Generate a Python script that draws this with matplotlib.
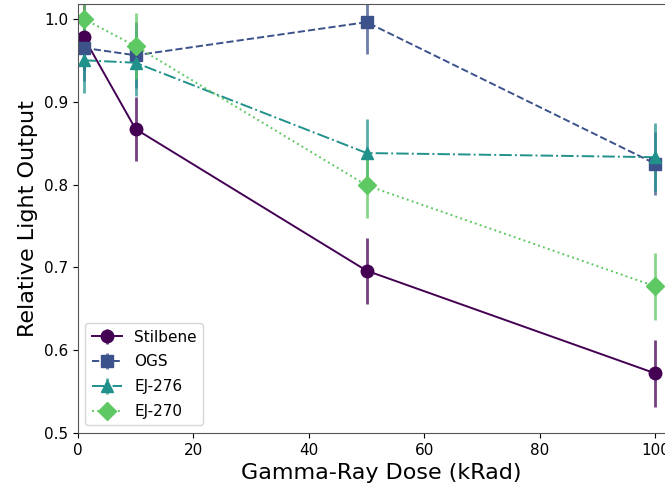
import matplotlib
matplotlib.use("Agg")
import matplotlib.pyplot as plt
from matplotlib.colors import to_rgba

# Gamma-ray dose (kRad) and relative light output per scintillator
dose = [1, 10, 50, 100]

stilbene = [0.978, 0.867, 0.696, 0.572]
stilbene_err = [0.04, 0.039, 0.04, 0.04]

ogs = [0.965, 0.956, 0.996, 0.825]
ogs_err = [0.04, 0.04, 0.039, 0.038]

ej276 = [0.950, 0.947, 0.838, 0.833]
ej276_err = [0.04, 0.04, 0.041, 0.041]

ej270 = [1.000, 0.967, 0.799, 0.677]
ej270_err = [0.04, 0.04, 0.04, 0.04]

series = [
    ("Stilbene", stilbene, stilbene_err, "#440154", "-", "o"),
    ("OGS", ogs, ogs_err, "#3b528b", "--", "s"),
    ("EJ-276", ej276, ej276_err, "#21918c", "-.", "^"),
    ("EJ-270", ej270, ej270_err, "#5ec962", ":", "D"),
]

fig = plt.figure(figsize=(6.65, 4.91), dpi=100)
ax = fig.add_axes([0.117, 0.118, 0.912, 0.874])

for label, values, errors, color, style, marker in series:
    ax.errorbar(
        dose, values, yerr=errors,
        color=color, linestyle=style, marker=marker,
        markersize=9, linewidth=1.4,
        ecolor=to_rgba(color, 0.75), elinewidth=2,
        label=label,
    )

ax.set_xlim(0, 105)
ax.set_ylim(0.5, 1.018)
ax.set_xticks([0, 20, 40, 60, 80, 100])
ax.set_yticks([0.5, 0.6, 0.7, 0.8, 0.9, 1.0])
ax.tick_params(labelsize=11)
for spine in ax.spines.values():
    spine.set_color("#555555")

ax.set_xlabel("Gamma-Ray Dose (kRad)", fontsize=16)
ax.set_ylabel("Relative Light Output", fontsize=16)
ax.legend(loc="lower left", fontsize=11, labelspacing=0.65)

fig.savefig("out.png", dpi=100)
